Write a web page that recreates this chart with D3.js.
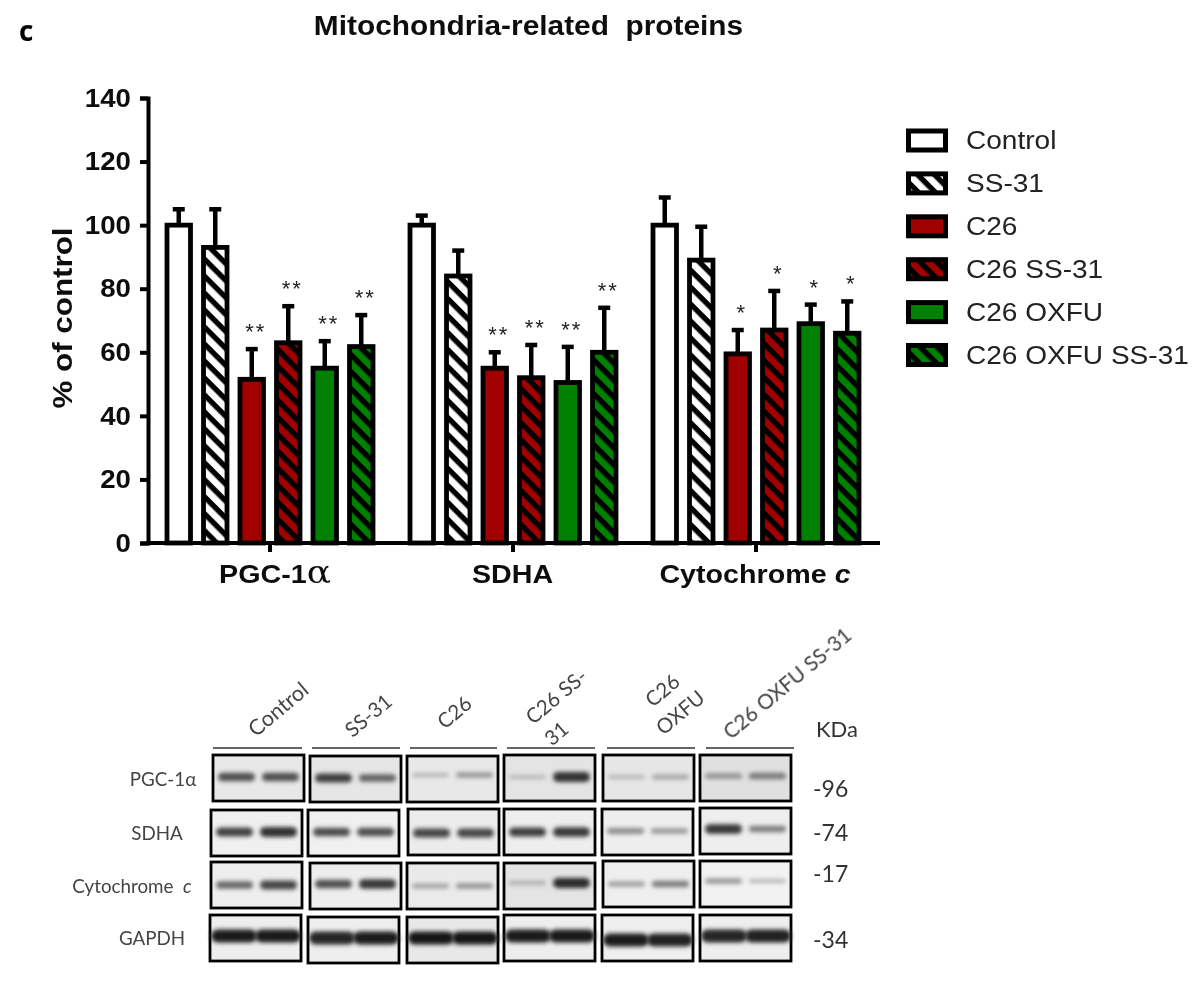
<!DOCTYPE html>
<html><head><meta charset="utf-8">
<script src="https://cdn.jsdelivr.net/npm/d3@7"></script>
<style>html,body{margin:0;padding:0;background:#fff}svg{display:block}</style>
</head><body><svg id="c" width="1200" height="983"></svg>
<script>
// ---- chart data
const groups = ["PGC-1α","SDHA","Cytochrome c"];
const treatments = ["Control","SS-31","C26","C26 SS-31","C26 OXFU","C26 OXFU SS-31"];
const pgcValues   = [100,93,51.5,63,55,61.8];
const sdhaValues  = [100,84,55,52,50.5,60];
const cytoValues  = [100,89,59.5,67,69,66];
const pgcUpper    = [105,105,61,74.5,63.5,71.7];
const sdhaUpper   = [103,92,60,62.3,61.7,74];
const cytoUpper   = [108.7,99.5,67,79.3,75,76];
const pgcSig  = ["","","**","**","**","**"];
const sdhaSig = ["","","**","**","**","**"];
const cytoSig = ["","","*","*","*","*"];
const fills   = ["#fff","#fff","#a00000","#a00000","#008000","#008000"];
const hatched = [false,true,false,true,false,true];
const yTicks  = [0,20,40,60,80,100,120,140];

// ---- blot data: band darkness per lane (two lanes per treatment)
const blotRows = ["PGC-1α","SDHA","Cytochrome c","GAPDH"];
const blotKDa  = ["-96","-74","-17","-34"];
const bands = [
 [[.68,.68],[.78,.58],[.15,.3],[.14,.85],[.14,.22],[.34,.46]],
 [[.76,.86],[.7,.68],[.74,.72],[.78,.8],[.36,.3],[.82,.44]],
 [[.55,.74],[.68,.82],[.24,.32],[.18,.88],[.28,.44],[.3,.14]],
 [[.98,.98],[.92,.98],[1,1],[.96,.98],[.96,.94],[.92,.94]]
];
const bandY = [
 [777,778,775,777,777,776],
 [832,832,833,832,831,829],
 [885,884,886,883,884,881],
 [936,938,938,936,940,936]
];
const boxX = [
 [213,310,407,504,603,700],
 [211,308,408,504,602,700],
 [211,310,407,504,603,700],
 [210,308,407,504,602,700]
];
const boxY = [
 [755,756,756,755,755,755],
 [810,810,809,809,809,808],
 [862,863,863,863,861,861],
 [915,917,917,915,915,915]
];
const bgGrey = [
 ["#e8e8e8","#e6e6e6","#e8e8e8","#e4e4e4","#e6e6e6","#e0e0e0"],
 ["#f0f0f0","#f0f0f0","#ececec","#eeeeee","#eeeeee","#eeeeee"],
 ["#eeeeee","#eeeeee","#eaeaea","#e4e4e4","#efefef","#f2f2f2"],
 ["#eeeeee","#eeeeee","#e8e8e8","#eeeeee","#efefef","#eeeeee"]
];

// ---- layout
const svg = d3.select("#c");
const arial = "'Liberation Sans',Arial,sans-serif";
const calibri = "Lato,'Open Sans',sans-serif";
const stretch = 1.085;
const defs = svg.append("defs");
defs.append("filter").attr("id","soft").attr("x","-5%").attr("y","-5%").attr("width","110%").attr("height","110%")
  .append("feGaussianBlur").attr("stdDeviation",0.6);
defs.append("filter").attr("id","band").attr("x","-30%").attr("y","-150%").attr("width","160%").attr("height","400%")
  .append("feGaussianBlur").attr("stdDeviation",2);
[["#fff","hw"],["#a00000","hr"],["#008000","hg"]].forEach(([col,id])=>{
  const p = defs.append("pattern").attr("id",id).attr("patternUnits","userSpaceOnUse")
    .attr("width",12).attr("height",12).attr("patternTransform","rotate(45)");
  p.append("rect").attr("width",12).attr("height",12).attr("fill",col);
  p.append("rect").attr("width",12).attr("height",5.4).attr("fill","#000");
});
const fillOf = i => hatched[i] ? (fills[i]==="#fff"?"url(#hw)":fills[i]==="#a00000"?"url(#hr)":"url(#hg)") : fills[i];

const root = svg.append("g").attr("filter","url(#soft)");

root.append("text").attr("transform",`translate(528.5,35) scale(${stretch},1)`).attr("text-anchor","middle")
  .attr("font-family",arial).attr("font-weight","700").attr("font-size",27.5)
  .style("white-space","pre").attr("fill","#111").text("Mitochondria-related  proteins");
root.append("text").attr("x",19).attr("y",41).attr("font-family","'Open Sans',sans-serif").attr("font-weight","700")
  .attr("font-size",28).text("c");

const y = d3.scaleLinear().domain([0,140]).range([543,98]);
const x0 = d3.scaleBand().domain(groups).range([148.5,877.5]).paddingInner(24/243).paddingOuter(12/243);
const x1 = d3.scaleBand().domain(treatments).range([0,x0.bandwidth()]);
const series = [
  {g:groups[0],v:pgcValues,u:pgcUpper,s:pgcSig},
  {g:groups[1],v:sdhaValues,u:sdhaUpper,s:sdhaSig},
  {g:groups[2],v:cytoValues,u:cytoUpper,s:cytoSig}
];
const barW = 23.5;
series.forEach(S=>{
  treatments.forEach((t,i)=>{
    const cx = x0(S.g)+x1(t)+x1.bandwidth()/2;
    const g = root.append("g");
    g.append("line").attr("x1",cx).attr("x2",cx).attr("y1",y(S.v[i])).attr("y2",y(S.u[i]))
      .attr("stroke","#000").attr("stroke-width",4.5);
    g.append("line").attr("x1",cx-6).attr("x2",cx+6).attr("y1",y(S.u[i])).attr("y2",y(S.u[i]))
      .attr("stroke","#000").attr("stroke-width",4.5);
    g.append("rect").attr("x",cx-barW/2).attr("y",y(S.v[i])).attr("width",barW).attr("height",y(0)-y(S.v[i]))
      .attr("fill",fillOf(i)).attr("stroke","#000").attr("stroke-width",4.8);
    if(S.s[i]) g.append("text").attr("x",cx+4).attr("y",y(S.u[i])-10).attr("text-anchor","middle")
      .attr("font-family",arial).attr("font-size",22).attr("letter-spacing",2).attr("fill","#222").text(S.s[i]);
  });
});

// axes
const yAxis = root.append("g").attr("transform","translate(148,0)")
  .call(d3.axisLeft(y).tickValues(yTicks).tickSize(8).tickPadding(7));
yAxis.selectAll("path,line").attr("stroke","#000").attr("stroke-width",4);
yAxis.selectAll("text").attr("x",0).attr("transform",`translate(-17,0) scale(${stretch},1)`)
  .attr("font-family",arial).attr("font-weight","700").attr("font-size",25.5).attr("fill","#111");
const xAxis = root.append("g").attr("transform","translate(0,543)")
  .call(d3.axisBottom(x0).tickSize(9).tickPadding(14).tickFormat(()=>""));
xAxis.select("path").attr("d","M146,0H880").attr("stroke","#000").attr("stroke-width",4);
xAxis.selectAll("line").attr("stroke","#000").attr("stroke-width",4);
// group labels
function groupLabel(name,i){
  const cx = x0(name)+x0.bandwidth()/2;
  const t = root.append("text").attr("transform",`translate(${cx+[5,-0.5,-1][i]},583) scale(${stretch+.04},1)`).attr("text-anchor","middle")
    .attr("font-family",arial).attr("font-weight","700").attr("font-size",25.5).attr("fill","#111");
  if(name.endsWith("α")){ t.append("tspan").text(name.slice(0,-1)); t.append("tspan").attr("font-weight","400").attr("font-family","'DejaVu Serif',serif").attr("font-size",32).text("α"); }
  else if(name.endsWith(" c")){ t.append("tspan").text(name.slice(0,-1)); t.append("tspan").attr("font-style","italic").text("c"); }
  else t.text(name);
}
groups.forEach(groupLabel);
root.append("text").attr("transform","translate(71.5,318) rotate(-90) scale(1.12,1)").attr("text-anchor","middle")
  .attr("font-family",arial).attr("font-weight","700").attr("font-size",28).attr("fill","#111").text("% of control");

// legend
const legY = d3.scalePoint().domain(treatments).range([140.5,355]);
treatments.forEach((t,i)=>{
  root.append("rect").attr("x",908.5).attr("y",legY(t)-9.5).attr("width",37).attr("height",19)
    .attr("fill",fillOf(i)).attr("stroke","#000").attr("stroke-width",5);
  root.append("text").attr("transform",`translate(966,${legY(t)+8.5}) scale(${stretch+.015},1)`).attr("font-family",arial).attr("font-size",25.5).attr("fill","#222").text(t);
});

// ---- blot panel
const blot = svg.append("g").attr("filter","url(#soft)");
const dark = d3.scaleLinear().domain([0,1]).range(["#cfcfcf","#161616"]);
const headerX = [[213,302],[312,400],[410,497],[507,595],[607,695],[706,794]];
treatments.forEach((t,c)=>{
  blot.append("line").attr("x1",headerX[c][0]).attr("x2",headerX[c][1]).attr("y1",748).attr("y2",748)
    .attr("stroke","#333").attr("stroke-width",1.4);
});
blotRows.forEach((r,ri)=>{
  treatments.forEach((t,c)=>{
    const bx=boxX[ri][c], by=boxY[ri][c], w=91, h=46;
    blot.append("rect").attr("x",bx).attr("y",by).attr("width",w).attr("height",h)
      .attr("fill",bgGrey[ri][c]).attr("stroke","#000").attr("stroke-width",2.8);
    bands[ri][c].forEach((d,l)=>{
      const lx = bx + (l===0?5:49);
      const bh = ri===3?13:(3+d*8);
      blot.append("rect").attr("x",lx+(ri===3?-4:0)).attr("y",bandY[ri][c]-bh/2)
        .attr("width",ri===3?46:37).attr("height",bh).attr("rx",bh/2)
        .attr("fill",dark(d)).attr("filter","url(#band)");
    });
  });
});
const rowLabelX = [163,157,132,152];
const rowLabelY = [786,840,893,945];
blot.selectAll(".rl").data(blotRows).join("text")
  .attr("x",(d,i)=>rowLabelX[i]).attr("y",(d,i)=>rowLabelY[i]).attr("text-anchor","middle")
  .attr("font-family",calibri).attr("font-size",18.8).attr("fill","#444")
  .each(function(d){
    const t=d3.select(this);
    if(d.endsWith(" c")){t.append("tspan").style("white-space","pre").text("Cytochrome  ");t.append("tspan").attr("font-style","italic").text("c");}
    else t.text(d);
  });
blot.selectAll(".kd").data(blotKDa).join("text").attr("x",813).attr("y",(d,i)=>[797,841,882,948][i])
  .attr("font-family",calibri).attr("font-size",23).attr("fill","#333").text(d=>d);
blot.append("text").attr("x",816).attr("y",737).attr("font-family",calibri).attr("font-size",22).attr("fill","#333").text("KDa");
// rotated lane headers (one entry per printed line)
const headerLines = ["Control","SS-31","C26","C26 SS-","31","C26","OXFU","C26 OXFU SS-31"];
const headerCx = [283,373,459,561,561,667,685,792];
const headerCy = [715,721,718,702,739,696,718,689];
const headerSize = [21.5,20.5,20.5,20.5,20.5,20.5,20.5,20.8];
headerLines.forEach((s,i)=>{
  blot.append("text").attr("transform",`translate(${headerCx[i]},${headerCy[i]}) rotate(-40)`)
    .attr("text-anchor","middle").attr("font-family",calibri).attr("font-size",headerSize[i]).attr("fill","#444").text(s);
});
</script></body></html>
